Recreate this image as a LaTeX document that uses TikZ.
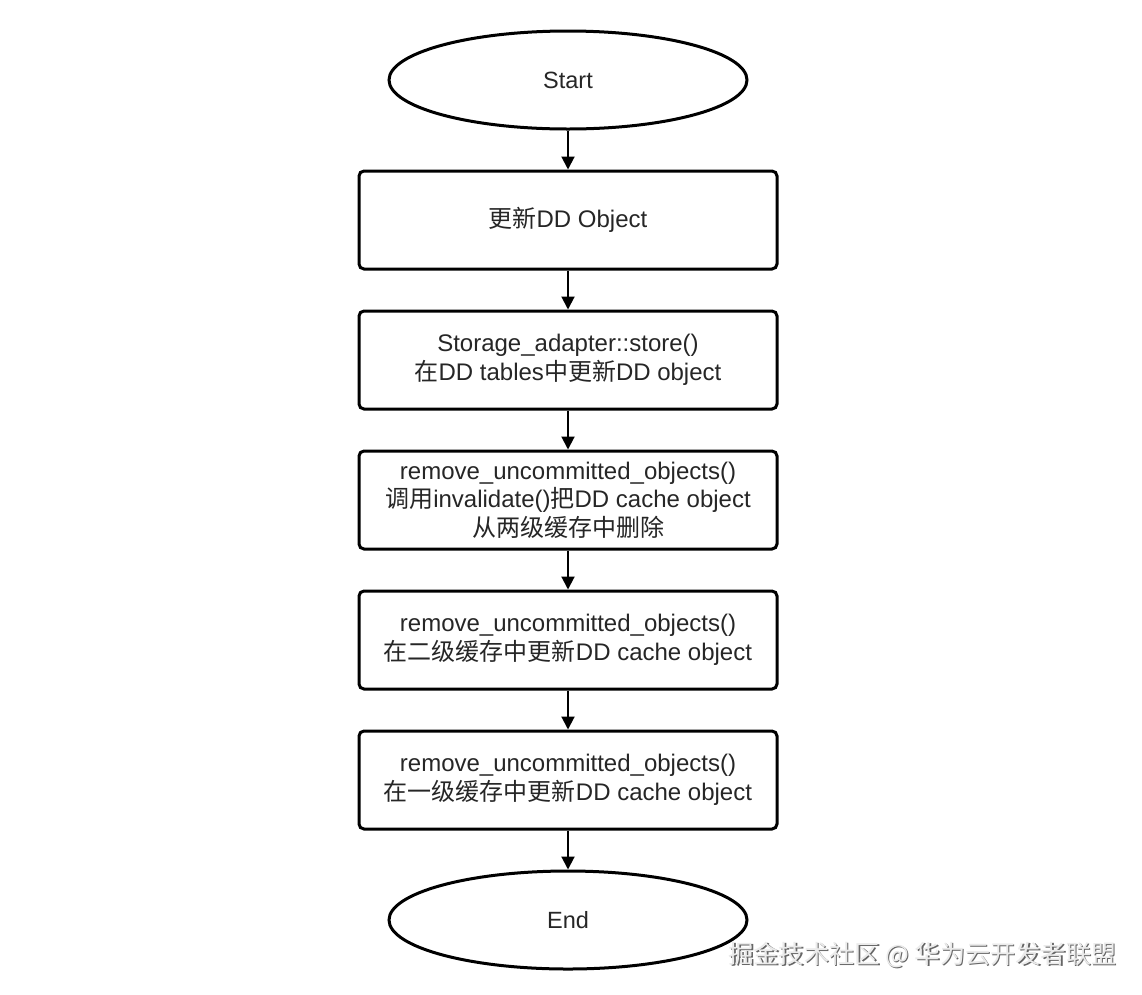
\documentclass[tikz,border=0pt]{standalone}
\usepackage{fontspec}
\setmainfont{Liberation Sans}
\newfontfamily\cjk{Noto Sans CJK SC}
\usetikzlibrary{shapes.geometric,arrows.meta}
\begin{document}
\begin{tikzpicture}[x=1pt,y=-1pt,
  term/.style={ellipse,draw=black,line width=3pt,minimum width=358pt,minimum height=98pt,inner sep=0pt,font=\fontsize{23.5}{28}\selectfont,text=black!85},
  proc/.style={rectangle,rounded corners=5pt,draw=black,line width=3pt,minimum width=418pt,minimum height=98pt,inner sep=0pt,align=center,font=\fontsize{24}{28.5}\selectfont,text=black!85},
  flow/.style={line width=2pt,-{Triangle[length=13pt,width=13pt]}},
  wm/.style={font=\fontsize{25.2}{28}\selectfont\cjk,anchor=center}]
\useasboundingbox[fill=white] (0,0) rectangle (1142,994);
\node[term] (start) at (568,80) {Start};
\node[proc] (b1) at (568,220) {{\cjk 更新}DD Object};
\node[proc] (b2) at (568,360) {Storage\_adapter::store()\\{\cjk 在}DD tables{\cjk 中更新}DD object};
\node[proc] (b3) at (568,500) {remove\_uncommitted\_objects()\\{\cjk 调用}invalidate(){\cjk 把}DD cache object\\{\cjk 从两级缓存中删除}};
\node[proc] (b4) at (568,640) {remove\_uncommitted\_objects()\\{\cjk 在二级缓存中更新}DD cache object};
\node[proc] (b5) at (568,780) {remove\_uncommitted\_objects()\\{\cjk 在一级缓存中更新}DD cache object};
\node[term] (end) at (568,920) {End};
\draw[flow] (start) -- (b1);
\draw[flow] (b1) -- (b2);
\draw[flow] (b2) -- (b3);
\draw[flow] (b3) -- (b4);
\draw[flow] (b4) -- (b5);
\draw[flow] (b5) -- (end);
\node[wm,text=black!60] (wmshadow) at (924,956) {掘金技术社区 @ 华为云开发者联盟};
\node[wm,text=black!8] (wmtext) at (922.5,954.5) {掘金技术社区 @ 华为云开发者联盟};
\end{tikzpicture}
\end{document}
